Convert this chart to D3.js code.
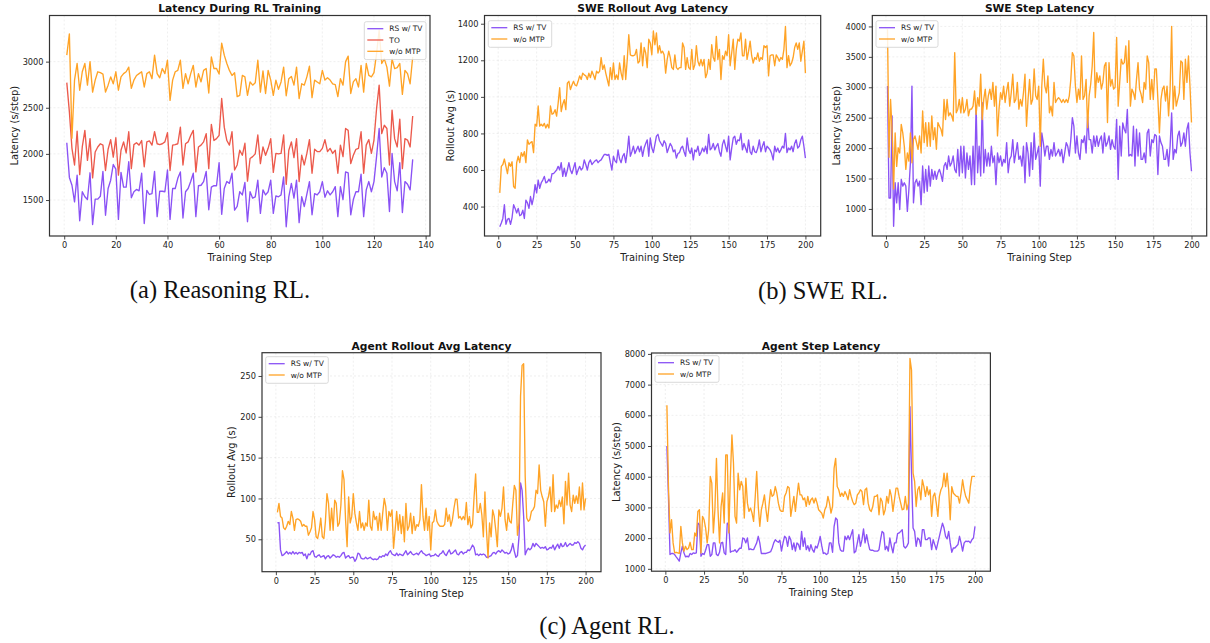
<!DOCTYPE html>
<html><head><meta charset="utf-8">
<script src="https://cdn.jsdelivr.net/npm/d3@7"></script>
<style>body{margin:0;background:#fff}svg{display:block}</style>
</head><body>
<svg id="c" width="1210" height="643"></svg>
<script>
// ---------- DATA ----------
const seriesNames = ["RS w/ TV", "TO", "w/o MTP"];
const reasonRS = [2120,1745,1660,1480,1770,1275,1590,1535,1505,1795,1235,1510,1510,1540,1810,1335,1625,1715,1885,1835,1290,1800,1640,1640,1915,1525,1590,1615,1600,1790,1245,1605,1560,1570,1810,1320,1595,1595,1590,1825,1290,1625,1625,1735,1805,1305,1590,1625,1700,1790,1320,1655,1660,1700,1810,1395,1640,1655,1655,1905,1345,1625,1700,1680,1790,1390,1430,1590,1555,1690,1265,1590,1520,1535,1715,1355,1610,1555,1590,1715,1355,1545,1535,1555,1750,1210,1535,1680,1520,1715,1255,1535,1430,1565,1700,1340,1570,1555,1590,1700,1530,1600,1555,1590,1645,1320,1645,1505,1805,1795,1340,1505,1590,1590,1780,1320,1610,1700,1590,1700,1970,2275,1750,1850,1790,1375,2005,1700,1600,1905,1365,1700,1670,1610,1940];
const reasonTO = [2772,2455,2060,1880,2245,1775,2075,2255,1930,2165,1740,2020,2075,2110,2095,1820,2050,2155,1965,2175,1770,2040,2130,2010,2240,1840,2100,2120,2095,2145,1860,2130,2140,2095,2240,2110,2100,2110,2130,2230,1820,2095,2100,2110,2290,1880,2110,2130,2200,2255,1805,2075,2095,2130,2220,1840,2320,2145,2165,2200,2600,2290,2145,2095,2240,1825,1880,2040,1985,2115,1705,1950,1970,2000,2205,1895,2075,1985,2060,2165,1800,2005,2000,2005,2205,1670,2040,2130,1960,2165,1700,1985,1880,2005,2155,1790,2050,2025,2025,2060,2155,2025,2060,2005,2040,1790,2095,1970,2275,2255,1895,1985,2050,2060,2240,1790,2095,2155,2005,2150,2490,2745,2220,2310,2275,1880,2475,2165,2075,2375,1840,2165,2150,2075,2410];
const reasonNoMTP = [3070,3300,2170,2800,2980,2690,2890,2980,2745,3000,2670,2800,2890,2880,2865,2670,2745,2835,2760,2890,2690,2835,2870,2890,2940,2710,2800,2850,2870,2890,2725,2870,2890,2815,3070,2870,2825,2925,2870,3015,2580,2800,2890,2905,3015,2710,2870,2760,2870,2960,2725,2870,2780,2905,2925,2660,3050,2925,2925,2865,3200,3070,2980,2905,2850,2880,2620,2635,2850,2835,2635,2780,2745,2770,3015,2670,2900,2655,2905,2800,2635,2800,2700,2780,2940,2630,2815,2840,2745,2940,2600,2760,2745,2835,2950,2610,2800,2780,2760,2905,2800,2825,2800,2760,2750,2620,2815,2745,3000,3060,2655,2780,2815,2725,2960,2670,2980,2850,2835,2880,3085,3340,2980,3030,2940,2735,3030,2925,2935,2980,2645,2905,2870,2760,3050];

const sweRolloutRS = [290,310,335,410,303,330,335,303,340,410,390,365,390,350,355,380,335,435,420,390,455,410,450,520,475,545,500,530,545,565,530,535,550,535,580,580,590,600,620,600,640,565,610,565,600,640,600,580,610,640,575,600,620,600,610,655,630,600,640,655,630,640,650,655,640,650,655,670,685,685,680,685,640,600,675,650,640,710,660,640,675,690,640,700,785,675,700,730,690,710,730,700,730,675,720,745,765,675,775,720,695,740,785,795,760,745,730,760,745,695,720,745,730,700,710,665,690,695,720,730,700,675,775,710,690,720,655,710,700,730,680,695,720,700,730,690,795,710,720,745,710,730,745,700,675,740,765,730,700,785,655,720,775,785,740,765,760,800,710,745,720,695,765,700,685,730,700,695,720,765,700,730,755,700,730,720,710,690,655,730,700,720,695,710,730,720,800,695,720,710,730,700,745,765,720,730,765,785,730,665];
const sweRolloutNoMTP = [475,620,630,660,620,580,640,620,645,510,500,640,675,640,695,675,700,640,765,740,750,755,695,850,840,950,840,850,840,855,830,850,830,950,905,910,930,895,965,1050,920,960,985,930,1075,1085,1040,1065,1085,1065,1060,1085,1115,1095,1130,1120,1115,1095,1130,1105,1140,1120,1095,1140,1130,1140,1215,1150,1175,1130,1095,1060,1160,1095,1185,1095,1120,1095,1185,1130,1095,1225,1095,1205,1340,1230,1225,1225,1230,1260,1185,1195,1295,1170,1270,1240,1160,1315,1295,1230,1360,1285,1350,1240,1280,1240,1250,1230,1130,1205,1250,1215,1160,1150,1230,1160,1150,1160,1160,1295,1270,1150,1215,1160,1150,1260,1150,1175,1280,1195,1170,1205,1170,1205,1105,1130,1205,1150,1285,1215,1195,1330,1205,1260,1095,1225,1205,1250,1225,1340,1170,1240,1315,1150,1260,1315,1305,1350,1225,1225,1315,1205,1250,1305,1225,1185,1215,1205,1240,1195,1215,1205,1280,1270,1280,1115,1225,1230,1230,1170,1230,1215,1195,1215,1205,1260,1385,1160,1225,1170,1185,1215,1270,1295,1260,1295,1195,1250,1305,1130];

const sweStepRS = [3020,1180,1180,2530,715,1430,1100,1430,990,1485,1375,1430,1375,960,1320,1760,3020,1100,1430,1485,1375,1455,1070,1705,1265,1650,1290,1705,1375,1650,1485,1620,1485,1595,1650,1565,1455,1705,1760,1650,1870,1705,1760,1870,1650,1595,1980,1540,2030,1595,2030,1510,1920,1650,1870,1400,2030,1400,2690,1595,2030,1540,2745,1595,1980,1705,1920,1705,2030,1760,1870,1400,1920,1760,1870,1705,1815,1760,2090,1595,1815,1870,2140,1760,1920,2090,1815,1870,1705,2030,1430,2090,1920,1540,2090,1650,2250,1815,1920,2030,1375,2250,2090,1870,2030,2030,1815,1980,1870,2090,1870,1920,1980,1870,1980,1760,1920,2090,2030,1870,2140,2500,2360,1920,2200,1920,1815,2140,2090,2200,1920,2530,2140,2140,1920,2200,2030,2200,2030,2140,2200,1920,2250,2030,2090,2200,1980,2140,2030,1980,2470,1485,2360,1870,2415,2310,2250,2635,1870,1895,1870,2360,1705,2310,1870,2250,1815,1815,1920,1760,2250,2310,1870,2140,2090,2225,2200,1565,2200,2090,2030,1815,1815,1980,1705,2030,2580,1815,1980,1920,2200,2280,2030,2090,2250,2030,2310,2415,1920,1620];
const sweStepNoMTP = [3955,1850,2800,2310,1330,2250,1700,2005,1920,2390,2250,2030,1650,1920,1785,2250,1760,2140,2200,2090,1980,2200,1920,2610,2090,2420,2030,2420,2030,2530,2140,2335,1980,2420,2360,2310,2200,2800,2470,2800,2530,2580,2530,2445,3570,2580,2640,2800,2580,2830,2580,2640,2800,2530,2640,2640,2690,2940,2555,2830,2690,3215,2470,2800,2970,2640,2860,2970,2800,3080,2690,3020,2200,2640,2910,2800,3020,2750,2940,3080,2690,2910,3215,2750,2800,3080,2640,2800,2690,2910,3215,2360,2800,3130,2720,2800,3300,2860,2800,3020,2030,3020,3460,3020,2910,3185,2580,2690,2530,3080,2750,2800,2830,2800,2750,2800,2750,2800,2750,2860,3130,3570,3515,3020,2750,2970,2800,3515,2800,2860,3130,2335,2860,3050,3350,3900,2830,3240,3080,3185,2970,3080,3350,3405,2420,3405,3020,3130,2970,3000,3820,2690,3080,3460,3380,3405,3680,3080,3765,2690,2970,2910,2800,3130,3405,2970,2885,2750,3080,2970,3515,3405,2800,3130,2800,3300,3300,2800,2250,2800,2970,3020,2775,3020,2530,2970,4000,2640,3020,2690,2800,2910,3435,3405,2800,3460,3080,3515,3020,2420];

const agentRolloutRS = [70,70.5,37,30,31,33,35,32,34,32,35,32,34,32,34,33,34,30,32,26,32,31,35,36,29,28,30,31,28,29,30,26,29,30,27,29,31,30,28,29,28,30,33,34,27,29,30,27,28,28,23,26,33,32,27,26,26,28,26,27,28,26,25,26,25,26,29,28,30,29,32,30,34,36,32,31,30,33,30,32,31,30,33,36,31,33,35,32,31,32,33,31,34,36,33,32,30,31,32,29,30,30,32,30,29,32,33,36,32,30,34,37,32,33,35,37,32,31,34,35,32,34,34,37,36,39,43,40,31,32,30,32,31,32,31,28,28,29,30,33,34,32,35,36,34,37,35,33,34,32,33,37,45,35,28,30,53,119,110,78,31,36,39,37,39,45,41,45,43,41,39,40,39,41,37,38,40,39,43,37,41,44,39,45,41,42,46,41,43,45,43,43,46,45,47,45,39,37,41,43];
const agentRolloutNoMTP = [83,94,78,76,64,62,66,72,68,84,76,61,74,75,74,72,66,68,66,66,55,59,64,84,74,53,51,61,76,53,51,72,106,94,61,88,61,98,94,66,70,92,134,123,74,41,102,70,78,106,82,70,61,84,64,70,61,70,66,98,66,61,84,74,78,61,82,61,82,100,90,61,84,78,86,39,61,84,61,80,57,78,47,94,61,66,82,57,78,61,68,66,74,117,78,61,88,61,78,37,70,72,86,72,68,66,66,66,68,88,72,80,66,74,88,99,99,76,78,74,78,74,95,68,78,64,68,102,130,83,83,94,80,53,108,61,27,70,53,86,78,61,41,86,78,88,114,74,61,82,72,70,94,116,110,55,70,225,263,265,127,76,72,74,84,86,90,110,106,141,110,102,96,66,96,102,114,84,129,84,92,88,98,90,102,69,121,92,131,92,84,104,94,103,94,114,86,119,86,100];

const agentStepRS = [5000,3360,1465,1500,1500,1465,1390,1325,1250,1520,1735,1520,1390,1410,1390,1500,1465,1520,1500,1520,2490,2440,1410,1500,1465,1605,1790,1790,1410,1465,1845,1845,1465,1430,1540,1845,1865,1520,1465,2490,2440,1540,1575,1575,1625,1540,1605,1670,1670,2005,1975,1845,2005,1625,1650,1625,1625,1735,1845,2060,1845,1500,1500,1500,1500,1520,1540,1560,1680,1845,1950,1900,1865,1930,1575,1845,2060,2005,1735,2060,1950,1625,1845,1575,1845,1790,1625,2220,1735,2005,1625,1755,1575,1790,1625,1540,1735,1680,1845,2060,1755,1500,1520,1465,1500,1845,1845,1540,2385,2655,2600,1845,1625,1575,1575,2060,1950,2080,1950,2115,2275,1520,1575,1845,2115,1735,1950,2300,1845,2115,1845,1625,1605,1605,1575,1575,1575,1625,1950,2220,2170,1625,1735,1575,2005,1735,1520,1845,1845,2150,2170,2220,2275,1735,1680,1735,1845,6280,4115,2330,2220,1735,2005,1950,1735,2275,2275,1950,1950,2005,2005,1625,1950,1790,1625,1845,2060,2275,2490,2330,2060,1975,2220,1845,1540,1680,1680,1735,1790,2060,1845,1575,1845,1900,1890,1900,1845,1950,2005,2385];
const agentStepNoMTP = [6330,3680,2170,2600,1845,1520,1540,1520,1500,2385,1845,1575,1735,1625,1680,1865,1625,1625,2170,2060,2870,2925,1520,2710,2600,2330,1845,2275,4010,3790,2170,2925,4600,2925,1845,3035,3470,2490,4710,4710,2170,4010,5360,4440,2710,2490,4115,3575,3845,3680,2655,3955,3140,2870,2980,2815,2545,3305,4170,3035,2385,2925,3140,3410,2925,2545,3090,3575,3360,3410,3680,3470,3140,2925,2870,2870,3360,3470,3680,3630,2710,3035,3360,2870,3360,3790,3410,3410,3250,3305,3035,3360,3090,3250,3305,3140,3305,3140,2925,2870,2815,2655,2925,3035,3360,3140,2815,3035,4280,4600,3680,3575,3360,3470,3360,3520,3410,3250,3575,3360,3195,3090,3140,3410,3470,3575,3520,3090,3575,3630,3140,2925,2870,3035,3360,3360,3410,2760,3305,3195,2760,2925,3360,3140,3575,3360,2870,3250,3630,3630,3360,3140,2925,2945,3360,2925,3140,7850,7470,4115,3845,3035,3575,3680,3250,3900,3680,3360,3680,3410,3575,2710,3360,3470,3140,2710,3360,3575,3680,4115,3680,4115,3575,2600,3680,3470,3410,3360,3360,3140,3470,3900,3575,3360,3250,3140,3680,4010,4010,4010];

const ticksReasonX = [0,20,40,60,80,100,120,140];
const ticksReasonY = [1500,2000,2500,3000];
const ticks200X = [0,25,50,75,100,125,150,175,200];
const ticksSweRolloutY = [400,600,800,1000,1200,1400];
const ticksSweStepY = [1000,1500,2000,2500,3000,3500,4000];
const ticksAgentRolloutY = [50,100,150,200,250];
const ticksAgentStepY = [1000,2000,3000,4000,5000,6000,7000,8000];

const titles = ["Latency During RL Training","SWE Rollout Avg Latency","SWE Step Latency","Agent Rollout Avg Latency","Agent Step Latency"];
const yLabels = ["Latency (s/step)","Rollout Avg (s)","Latency (s/step)","Rollout Avg (s)","Latency (s/step)"];
const captions = ["(a) Reasoning RL.","(b) SWE RL.","(c) Agent RL."];

// ---------- STYLE ----------
const COL = {"RS w/ TV":"#8a52f5","TO":"#ec5a4c","w/o MTP":"#ffa326"};
const FONT = "DejaVu Sans, sans-serif";
const svg = d3.select("#c");
const fmt = d3.format("d");

function panel(cfg){
  const {l,t,r,b} = cfg.box;
  const x = d3.scaleLinear().domain(cfg.xDomain).range([l,r]);
  const y = d3.scaleLinear().domain(cfg.yDomain).range([b,t]);
  const g = svg.append("g");
  // grid
  g.append("g").selectAll("line").data(cfg.xTicks).join("line")
    .attr("x1",d=>x(d)).attr("x2",d=>x(d)).attr("y1",t).attr("y2",b)
    .attr("stroke","#b0b0b0").attr("stroke-opacity",0.3).attr("stroke-width",0.7).attr("stroke-dasharray","2,2");
  g.append("g").selectAll("line").data(cfg.yTicks).join("line")
    .attr("y1",d=>y(d)).attr("y2",d=>y(d)).attr("x1",l).attr("x2",r)
    .attr("stroke","#b0b0b0").attr("stroke-opacity",0.3).attr("stroke-width",0.7).attr("stroke-dasharray","2,2");
  // lines
  const line = d3.line().x((d,i)=>x(i+1)).y(d=>y(d));
  cfg.series.forEach(s=>{
    g.append("path").datum(s.values).attr("d",line)
      .attr("fill","none").attr("stroke",COL[s.name]).attr("stroke-width",1.35)
      .attr("stroke-linejoin","round");
  });
  // axes
  const xa = g.append("g").attr("transform",`translate(0,${b})`)
    .call(d3.axisBottom(x).tickValues(cfg.xTicks).tickFormat(fmt).tickSize(3.5).tickPadding(2.5).tickSizeOuter(0));
  const ya = g.append("g").attr("transform",`translate(${l},0)`)
    .call(d3.axisLeft(y).tickValues(cfg.yTicks).tickFormat(fmt).tickSize(3.5).tickPadding(2.5).tickSizeOuter(0));
  [xa,ya].forEach(a=>{
    a.select(".domain").remove();
    a.selectAll("line").attr("stroke","#333").attr("stroke-width",0.9);
    a.selectAll("text").attr("font-family",FONT).attr("font-size",8.2).attr("fill","#222");
  });
  // frame
  g.append("rect").attr("x",l).attr("y",t).attr("width",r-l).attr("height",b-t)
    .attr("fill","none").attr("stroke","#333").attr("stroke-width",1.2);
  // title
  g.append("text").attr("x",(l+r)/2).attr("y",t-3.2).attr("text-anchor","middle")
    .attr("font-family",FONT).attr("font-weight","bold").attr("font-size",10.7).attr("fill","#111").text(cfg.title);
  // axis labels
  g.append("text").attr("x",(l+r)/2).attr("y",b+25).attr("text-anchor","middle")
    .attr("font-family",FONT).attr("font-size",9.9).attr("fill","#222").text("Training Step");
  g.append("text").attr("transform",`translate(${cfg.yLabelX},${(t+b)/2}) rotate(-90)`)
    .attr("text-anchor","middle").attr("dominant-baseline","central")
    .attr("font-family",FONT).attr("font-size",9.9).attr("fill","#222").text(cfg.yLabel);
  // legend
  const lg = cfg.legend;
  const lgG = g.append("g");
  lgG.append("rect").attr("x",lg.x).attr("y",lg.y).attr("width",lg.w).attr("height",8+cfg.series.length*11.3-4)
    .attr("rx",2).attr("fill","#fff").attr("fill-opacity",0.85).attr("stroke","#d0d0d0").attr("stroke-width",0.8);
  cfg.series.forEach((s,i)=>{
    const yy = lg.y+7+i*11.3;
    lgG.append("line").attr("x1",lg.x+3).attr("x2",lg.x+19).attr("y1",yy).attr("y2",yy)
      .attr("stroke",COL[s.name]).attr("stroke-width",1.3);
    lgG.append("text").attr("x",lg.x+25).attr("y",yy).attr("dominant-baseline","central")
      .attr("font-family",FONT).attr("font-size",7.5).attr("fill","#222").text(s.name);
  });
}

panel({box:{l:49.5,t:15.5,r:430,b:236}, xDomain:[-5.7,141.7], yDomain:[1110,3500],
  xTicks:ticksReasonX, yTicks:ticksReasonY, title:titles[0], yLabel:yLabels[0], yLabelX:14,
  legend:{x:364.3,y:21.7,w:61.7},
  series:[{name:seriesNames[0],values:reasonRS},{name:seriesNames[1],values:reasonTO},{name:seriesNames[2],values:reasonNoMTP}]});
panel({box:{l:484.5,t:15.5,r:820.7,b:236}, xDomain:[-8.95,209.95], yDomain:[239,1445],
  xTicks:ticks200X, yTicks:ticksSweRolloutY, title:titles[1], yLabel:yLabels[1], yLabelX:450,
  legend:{x:488.3,y:20.7,w:63.4},
  series:[{name:seriesNames[0],values:sweRolloutRS},{name:seriesNames[2],values:sweRolloutNoMTP}]});
panel({box:{l:872.3,t:15.5,r:1206.7,b:236}, xDomain:[-8.95,209.95], yDomain:[555,4180],
  xTicks:ticks200X, yTicks:ticksSweStepY, title:titles[2], yLabel:yLabels[2], yLabelX:836,
  legend:{x:876,y:20.7,w:62},
  series:[{name:seriesNames[0],values:sweStepRS},{name:seriesNames[2],values:sweStepNoMTP}]});
panel({box:{l:262,t:352.7,r:601,b:571.7}, xDomain:[-8.95,209.95], yDomain:[10.3,278.5],
  xTicks:ticks200X, yTicks:ticksAgentRolloutY, title:titles[3], yLabel:yLabels[3], yLabelX:231.7,
  legend:{x:265.7,y:356.7,w:62.6},
  series:[{name:seriesNames[0],values:agentRolloutRS},{name:seriesNames[2],values:agentRolloutNoMTP}]});
panel({box:{l:651.5,t:353,r:990.4,b:571.2}, xDomain:[-8.95,209.95], yDomain:[923,8030],
  xTicks:ticks200X, yTicks:ticksAgentStepY, title:titles[4], yLabel:yLabels[4], yLabelX:616,
  legend:{x:655,y:355.7,w:64},
  series:[{name:seriesNames[0],values:agentStepRS},{name:seriesNames[2],values:agentStepNoMTP}]});

// captions
const capPos = [[220,298],[823,299],[607,634]];
svg.selectAll("text.cap").data(captions).join("text").attr("class","cap")
  .attr("x",(d,i)=>capPos[i][0]).attr("y",(d,i)=>capPos[i][1]).attr("text-anchor","middle")
  .attr("font-family","Liberation Serif, serif").attr("font-size",24.5).attr("fill","#111").text(d=>d);
</script>
</body></html>
